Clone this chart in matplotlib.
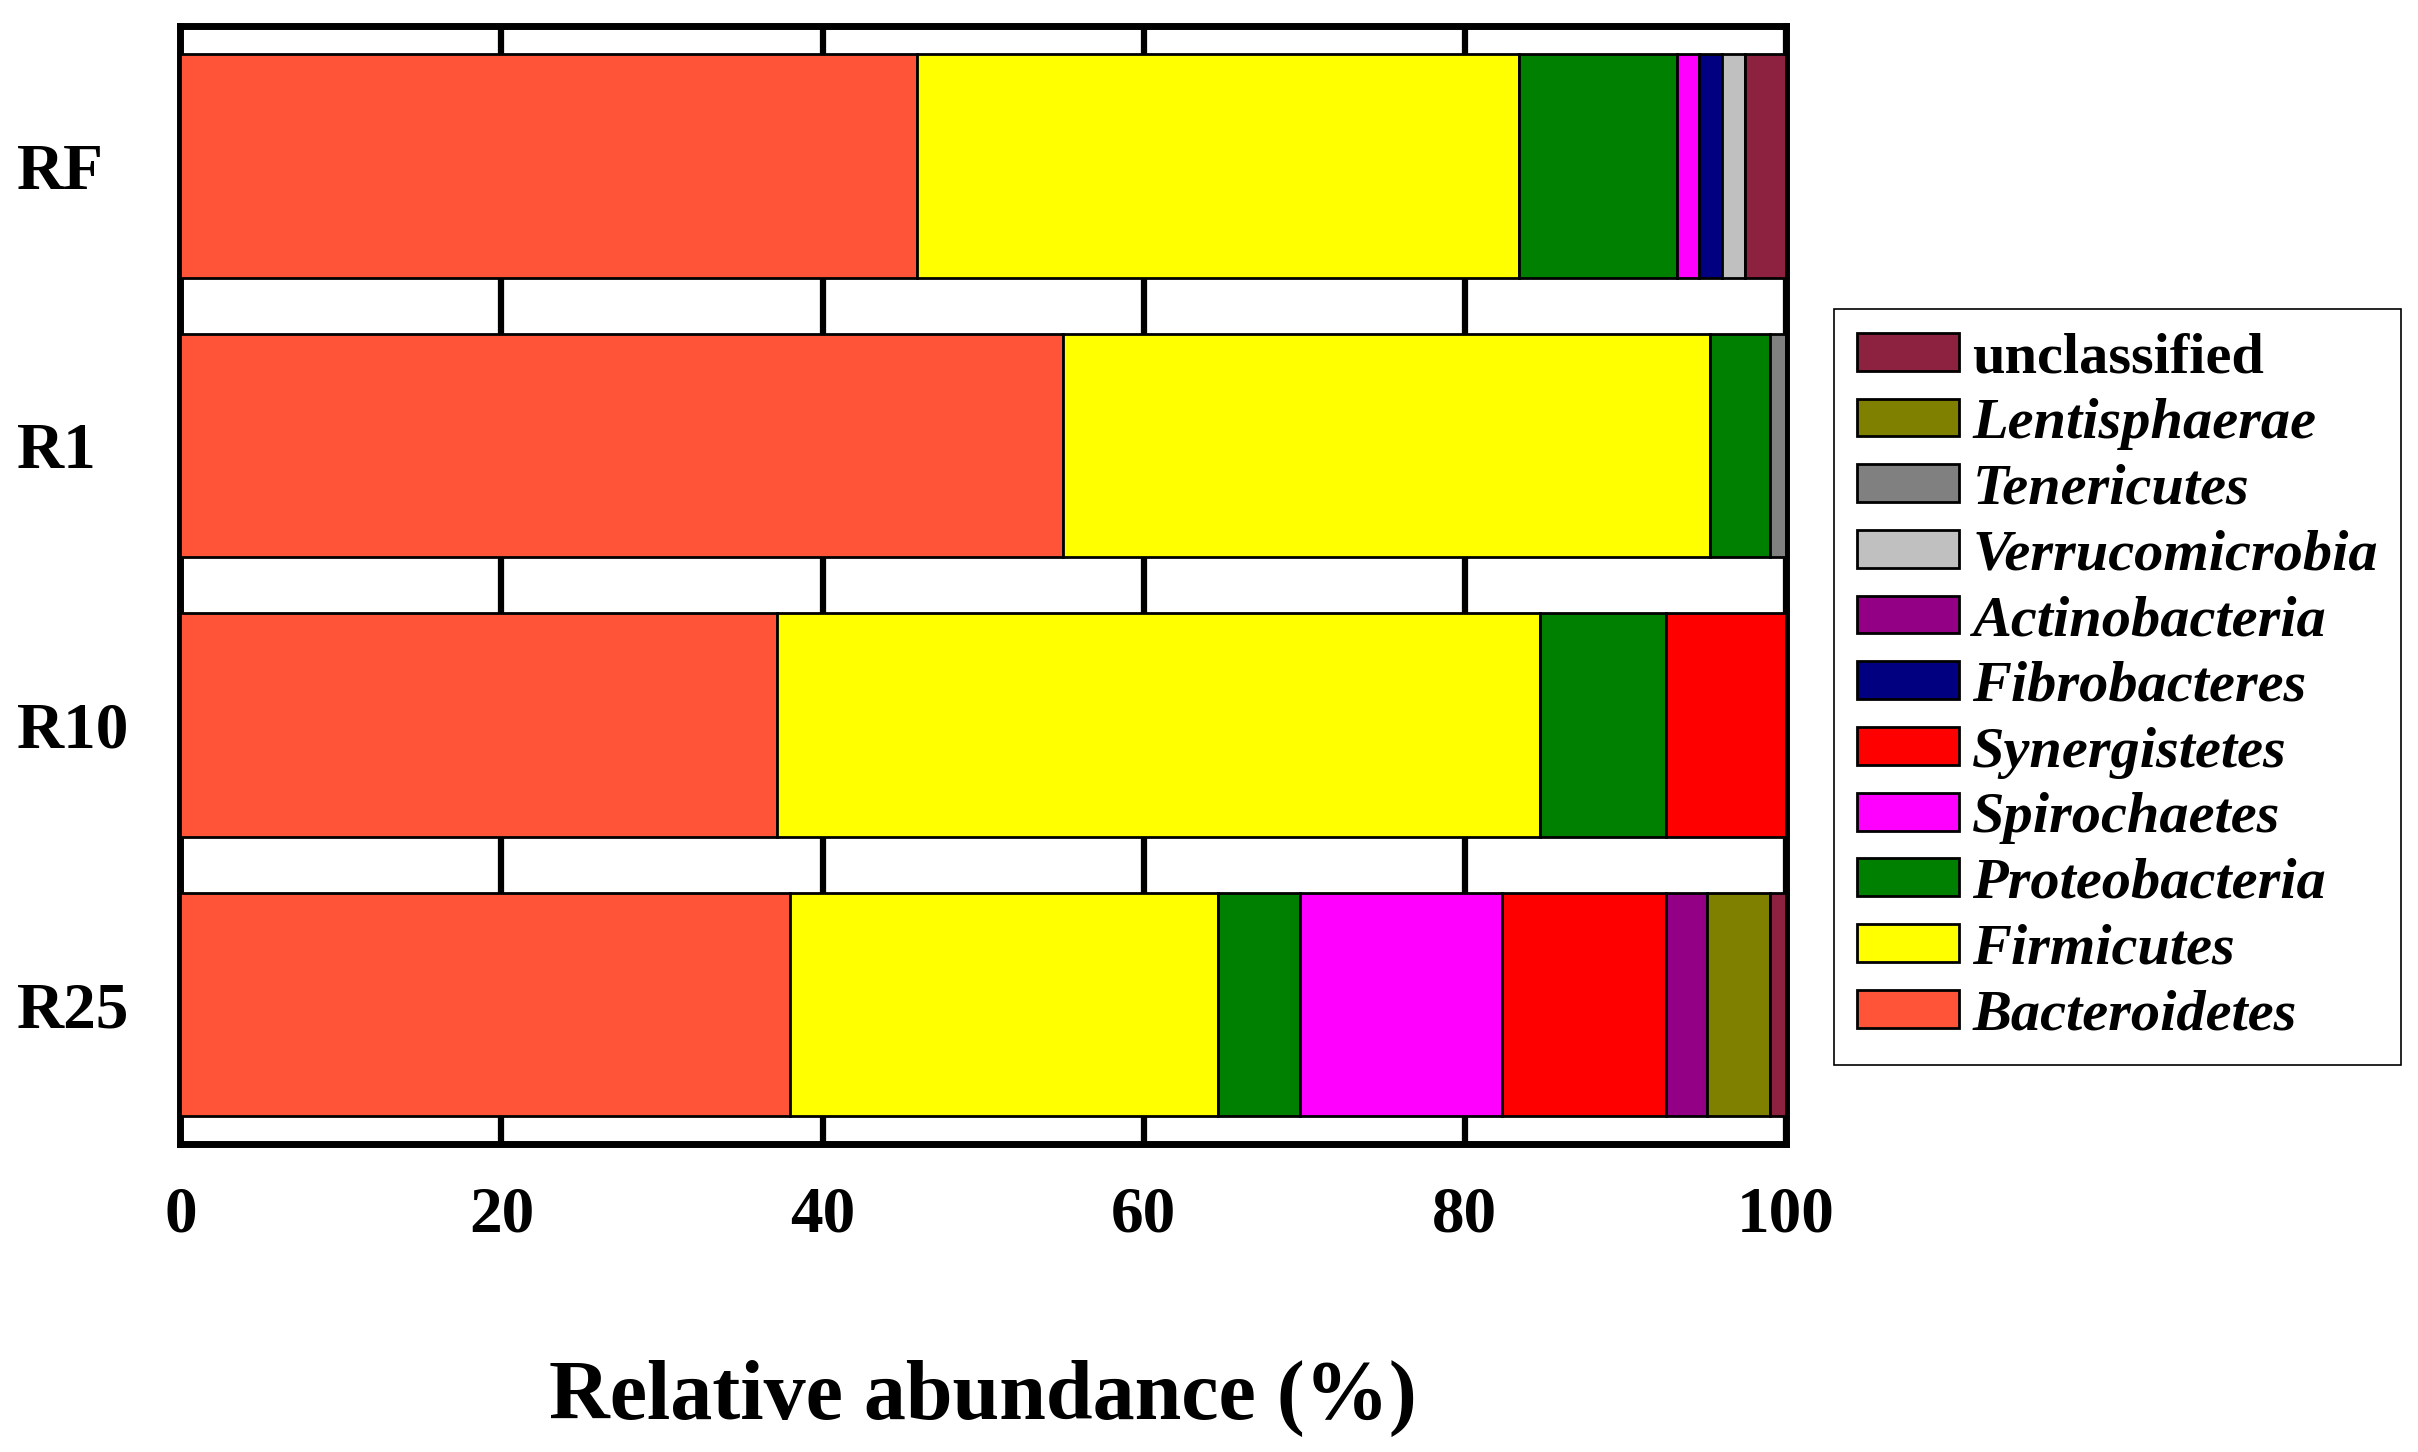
import numpy as np
import matplotlib
matplotlib.use("Agg")
import matplotlib.pyplot as plt

samples = ["RF", "R1", "R10", "R25"]
phyla = ["Bacteroidetes", "Firmicutes", "Proteobacteria", "Spirochaetes",
         "Synergistetes", "Fibrobacteres", "Actinobacteria", "Verrucomicrobia",
         "Tenericutes", "Lentisphaerae", "unclassified"]
colors = ["#FF5437", "#FFFF00", "#008000", "#FF00FF", "#FF0000", "#000080",
          "#940085", "#C0C0C0", "#808080", "#808000", "#8C2140"]

# relative abundance (%) per phylum, order of samples
bacteroidetes = [45.86, 54.95, 37.18, 37.94]
firmicutes = [37.50, 40.32, 47.48, 26.71]
proteobacteria = [9.83, 3.72, 7.84, 5.09]
spirochaetes = [1.40, 0.0, 0.0, 12.57]
synergistetes = [0.0, 0.0, 7.50, 10.25]
fibrobacteres = [1.40, 0.0, 0.0, 0.0]
actinobacteria = [0.0, 0.0, 0.0, 2.54]
verrucomicrobia = [1.46, 0.0, 0.0, 0.0]
tenericutes = [0.0, 1.01, 0.0, 0.0]
lentisphaerae = [0.0, 0.0, 0.0, 3.89]
unclassified = [2.55, 0.0, 0.0, 1.01]

values = [bacteroidetes, firmicutes, proteobacteria, spirochaetes, synergistetes,
          fibrobacteres, actinobacteria, verrucomicrobia, tenericutes,
          lentisphaerae, unclassified]

plt.rcParams['font.family'] = ['Liberation Serif', 'DejaVu Serif']
plt.rcParams['font.weight'] = 'bold'

fig = plt.figure(figsize=(24.18, 14.52), dpi=100)
ax = fig.add_axes([0.0746, 0.212, 0.664, 0.770])

y = np.arange(len(samples))
left = np.zeros(len(samples))
handles = []
for name, vals, col in zip(phyla, values, colors):
    vals = np.array(vals)
    b = ax.barh(y, vals, left=left, height=0.8, color=col,
                edgecolor="black", linewidth=2, label=name, zorder=3)
    handles.append(b)
    left += vals

ax.set_xlim(0, 100)
ax.set_ylim(3.5, -0.5)
ax.set_xticks([0, 20, 40, 60, 80, 100])
ax.set_yticks(y)
ax.set_yticklabels(samples, ha="left")
ax.tick_params(axis="x", length=0, pad=30, labelsize=47)
ax.tick_params(axis="y", length=0, pad=118, labelsize=47)
for lab in ax.get_xticklabels() + ax.get_yticklabels():
    lab.set_fontweight("bold")

ax.xaxis.grid(True, color="black", linewidth=4.5, zorder=0)
ax.set_axisbelow(True)
for sp in ax.spines.values():
    sp.set_linewidth(5)

ax.set_xlabel("Relative abundance (%)", fontsize=60.5, fontweight="bold", labelpad=82)

leg = fig.legend(handles[::-1], phyla[::-1], loc="center left",
                 bbox_to_anchor=(0.7585, 0.527), borderaxespad=0, fontsize=42,
                 handlelength=1.75, handleheight=0.62, labelspacing=0.235,
                 handletextpad=0.22, borderpad=0.4, fancybox=False,
                 framealpha=1, edgecolor="black")
leg.get_frame().set_linewidth(1.2)
for t in leg.get_texts():
    t.set_fontweight("bold")
    if t.get_text() != "unclassified":
        t.set_fontstyle("italic")

fig.savefig("out.png", dpi=100)
